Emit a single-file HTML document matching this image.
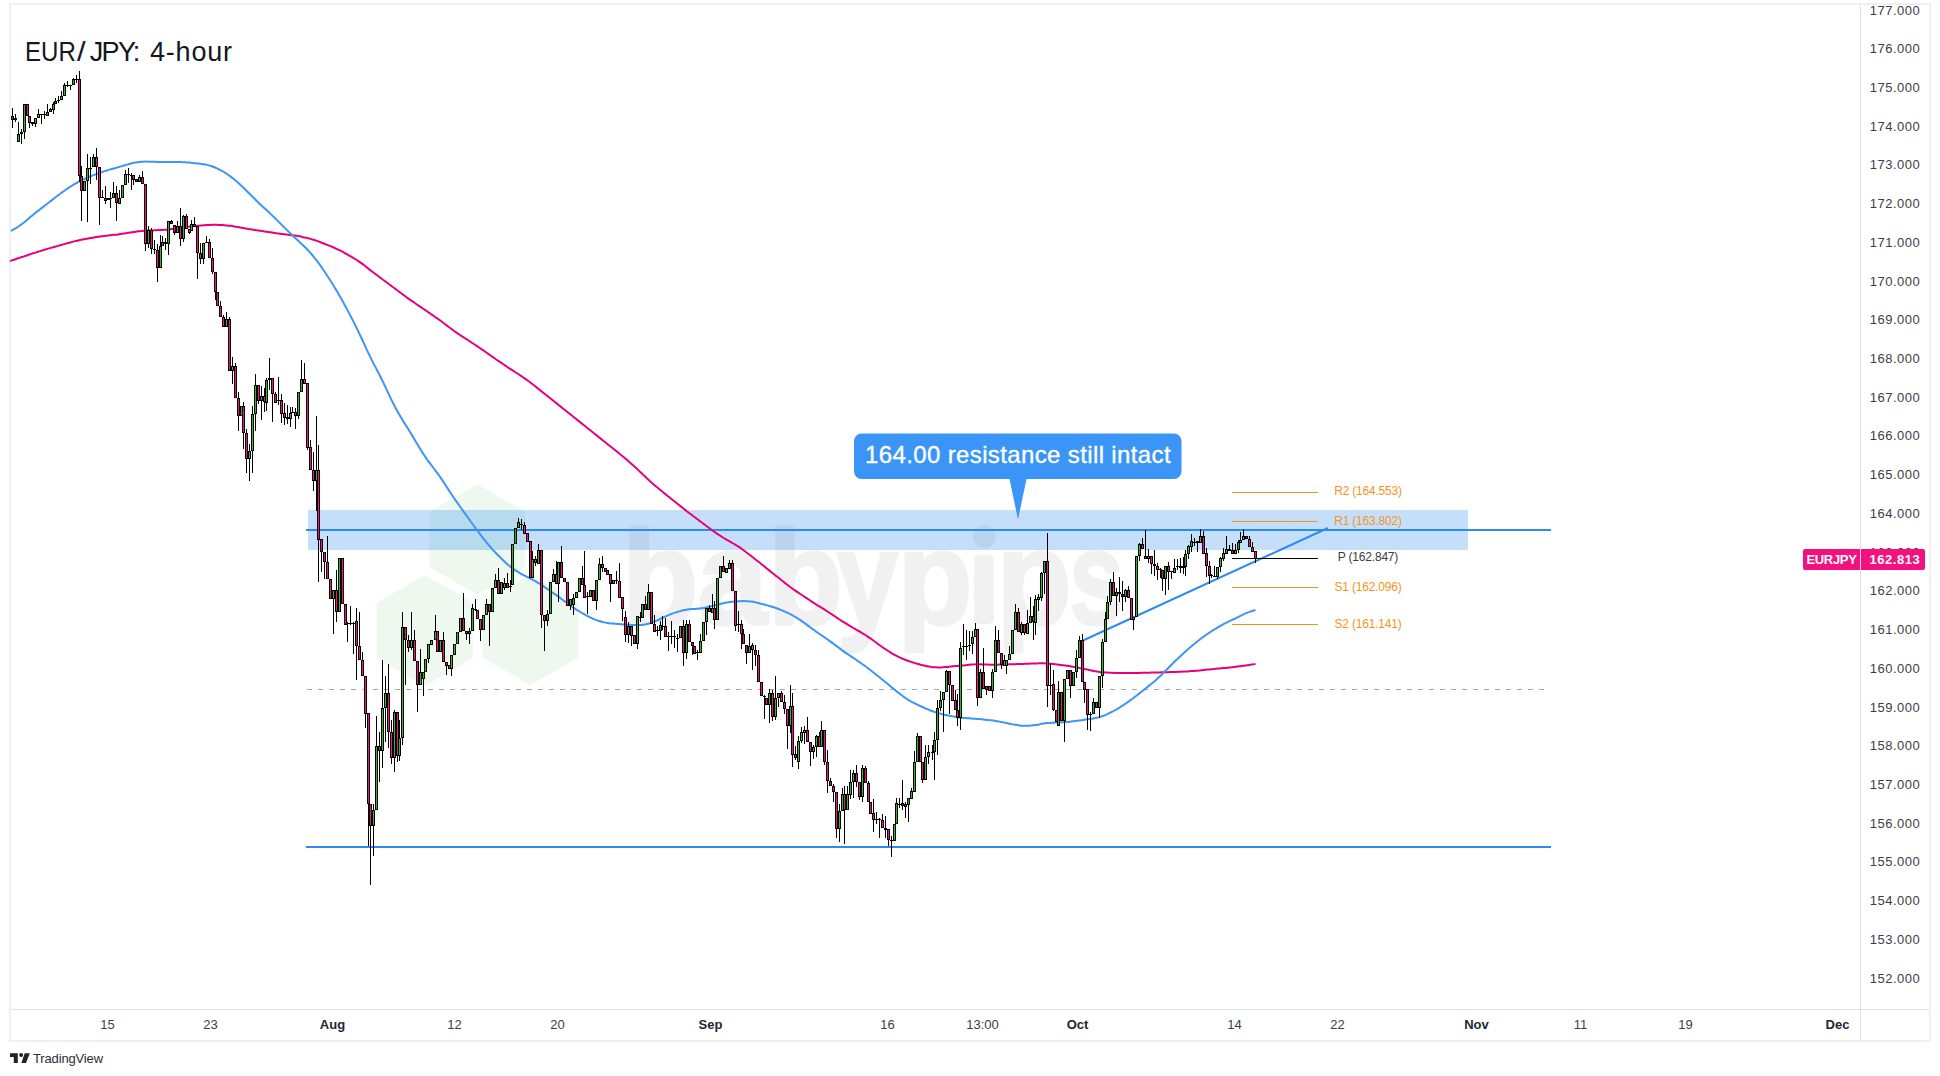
<!DOCTYPE html>
<html><head><meta charset="utf-8"><title>EUR/JPY 4-hour</title>
<style>
html,body{margin:0;padding:0;background:#fff;}
body{width:1940px;height:1076px;position:relative;overflow:hidden;font-family:"Liberation Sans",sans-serif;color:#131722;}
.frame{position:absolute;left:9px;top:3px;width:1918px;height:1035px;border:2px solid #eef0f5;}
.vax{position:absolute;left:1860px;top:5px;width:1px;height:1035px;background:#e0e2e8;}
.hax{position:absolute;left:11px;top:1009px;width:1918px;height:1px;background:#e0e2e8;}
.pl{position:absolute;left:1866px;width:58px;text-align:center;font-size:13px;line-height:16px;color:#3b3e49;letter-spacing:0.5px}
.tl{position:absolute;top:1016.5px;width:60px;text-align:center;font-size:13px;line-height:16px;color:#3b3e49;}
.tl.b{font-weight:bold;color:#23262f}
.pv{position:absolute;left:1334px;width:68px;text-align:center;font-size:12px;line-height:16px;color:#3b3b3b;white-space:nowrap;letter-spacing:-0.2px}
.pv.o{color:#f7931a}
.title{position:absolute;top:34px;font-size:27px;line-height:36px;color:#131722;white-space:nowrap;}
.co{position:absolute;left:854px;top:433px;width:328px;height:45px;line-height:44px;text-align:center;color:#fff;font-size:24px;white-space:nowrap;letter-spacing:0.37px;-webkit-text-stroke:0.35px #fff;}
.tag{position:absolute;top:549px;height:21px;line-height:21px;color:#fff;font-weight:bold;font-size:13px;background:#f5107f;text-align:center}
.tv{position:absolute;left:33px;top:1050px;font-size:13px;line-height:18px;color:#2a2e39;letter-spacing:-0.15px}
</style></head><body>
<div class="frame"></div><div class="vax"></div><div class="hax"></div>
<div class="pl" style="top:2.5px">177.000</div><div class="pl" style="top:41.2px">176.000</div><div class="pl" style="top:79.9px">175.000</div><div class="pl" style="top:118.7px">174.000</div><div class="pl" style="top:157.4px">173.000</div><div class="pl" style="top:196.1px">172.000</div><div class="pl" style="top:234.8px">171.000</div><div class="pl" style="top:273.5px">170.000</div><div class="pl" style="top:312.3px">169.000</div><div class="pl" style="top:351.0px">168.000</div><div class="pl" style="top:389.7px">167.000</div><div class="pl" style="top:428.4px">166.000</div><div class="pl" style="top:467.1px">165.000</div><div class="pl" style="top:505.9px">164.000</div><div class="pl" style="top:583.3px">162.000</div><div class="pl" style="top:622.0px">161.000</div><div class="pl" style="top:660.7px">160.000</div><div class="pl" style="top:699.5px">159.000</div><div class="pl" style="top:738.2px">158.000</div><div class="pl" style="top:776.9px">157.000</div><div class="pl" style="top:815.6px">156.000</div><div class="pl" style="top:854.3px">155.000</div><div class="pl" style="top:893.1px">154.000</div><div class="pl" style="top:931.8px">153.000</div><div class="pl" style="top:970.5px">152.000</div><div class="pl" style="top:544.6px">163.000</div><div class="tl" style="left:77.5px">15</div><div class="tl" style="left:180.5px">23</div><div class="tl b" style="left:302.5px">Aug</div><div class="tl" style="left:424.5px">12</div><div class="tl" style="left:527.5px">20</div><div class="tl b" style="left:680.5px">Sep</div><div class="tl" style="left:857.5px">16</div><div class="tl" style="left:952.5px">13:00</div><div class="tl b" style="left:1047.5px">Oct</div><div class="tl" style="left:1204.5px">14</div><div class="tl" style="left:1307.5px">22</div><div class="tl b" style="left:1446.5px">Nov</div><div class="tl" style="left:1550.5px">11</div><div class="tl" style="left:1655.5px">19</div><div class="tl b" style="left:1807.5px">Dec</div>
<svg width="1940" height="1076" viewBox="0 0 1940 1076" style="position:absolute;left:0;top:0"><path d="M477.3 484.2L525.2 511.9L525.2 567.1L477.3 594.8L429.4 567.1L429.4 511.9z" fill="#5cb85c" fill-opacity="0.10"/><path d="M424.8 575.1L472.7 602.8L472.7 658.0L424.8 685.7L376.9 658.0L376.9 602.8z" fill="#5cb85c" fill-opacity="0.10"/><path d="M530.5 574.5L578.4 602.1L578.4 657.4L530.5 685.1L482.6 657.4L482.6 602.1z" fill="#5cb85c" fill-opacity="0.10"/><rect x="308" y="510" width="1160" height="40" fill="#2a8af0" fill-opacity="0.27"/><g opacity="0.065" font-family="Liberation Sans, sans-serif" font-weight="bold" font-size="133" fill="#40404a" stroke="#40404a" stroke-width="3" stroke-linejoin="round"><text transform="translate(621.9,623.5) scale(0.937,1)">b</text><text transform="translate(697.6,623.5) scale(0.947,1)">a</text><text transform="translate(768.0,623.5) scale(0.921,1)">b</text><text transform="translate(836.4,623.5) scale(0.837,1)">y</text><text transform="translate(897.5,623.5) scale(0.923,1)">p</text><rect x="974" y="554.5" width="20" height="69.5" rx="5" stroke="none"/><circle cx="984.3" cy="536.6" r="11.6" stroke="none"/><text transform="translate(996.5,623.5) scale(0.923,1)">p</text><text transform="translate(1069.2,623.5) scale(0.735,1)">s</text></g><path d="M307 689.5H1545" stroke="#a8a8a8" stroke-width="1" stroke-dasharray="5 6" fill="none" shape-rendering="crispEdges"/><path d="M306 530H1551M306 847H1551" stroke="#2a8cf0" stroke-width="2" fill="none"/><path d="M1082.5 640.75L1328 528" stroke="#2a8cf0" stroke-width="2" fill="none"/><path d="M10.0 261.0C10.7 260.8 12.7 260.1 14.0 259.7C15.3 259.2 16.7 258.8 18.0 258.3C19.3 257.9 20.7 257.4 22.0 257.0C23.3 256.6 24.7 256.1 26.0 255.7C27.3 255.2 28.7 254.8 30.0 254.3C31.3 253.9 32.7 253.4 34.0 253.0C35.3 252.6 36.7 252.1 38.0 251.7C39.3 251.3 40.7 250.9 42.0 250.5C43.3 250.1 44.7 249.7 46.0 249.3C47.3 248.9 48.6 248.5 50.0 248.1C51.4 247.7 52.8 247.4 54.1 247.0C55.5 246.6 56.8 246.3 58.1 245.9C59.4 245.5 60.8 245.1 62.1 244.7C63.4 244.3 64.8 244.0 66.1 243.6C67.4 243.2 68.8 242.9 70.1 242.5C71.4 242.1 72.8 241.7 74.1 241.4C75.4 241.1 76.8 240.8 78.1 240.5C79.4 240.2 80.8 239.9 82.1 239.6C83.4 239.3 84.8 239.1 86.1 238.8C87.4 238.6 88.8 238.3 90.1 238.1C91.4 237.9 92.8 237.6 94.1 237.4C95.4 237.2 96.8 236.9 98.1 236.7C99.4 236.5 100.8 236.4 102.1 236.2C103.4 236.0 104.8 235.8 106.1 235.7C107.4 235.5 108.8 235.5 110.1 235.3C111.4 235.2 112.8 235.0 114.1 234.8C115.4 234.7 116.8 234.6 118.1 234.4C119.4 234.2 120.8 234.0 122.1 233.8C123.4 233.6 124.8 233.4 126.1 233.2C127.4 233.0 128.8 232.7 130.1 232.5C131.4 232.3 132.8 232.1 134.1 231.9C135.4 231.7 136.8 231.5 138.2 231.3C139.5 231.2 140.9 231.1 142.2 231.0C143.5 230.9 144.9 230.8 146.2 230.7C147.5 230.6 148.9 230.6 150.2 230.5C151.5 230.4 152.9 230.4 154.2 230.3C155.5 230.2 156.9 230.2 158.2 230.1C159.5 230.0 160.9 230.0 162.2 229.9C163.5 229.8 164.9 229.8 166.2 229.7C167.5 229.6 168.9 229.5 170.2 229.3C171.5 229.2 172.9 229.0 174.2 228.8C175.5 228.6 176.9 228.5 178.2 228.3C179.5 228.1 180.9 227.9 182.2 227.7C183.5 227.5 184.9 227.3 186.2 227.1C187.5 226.9 188.9 226.8 190.2 226.6C191.5 226.4 192.9 226.2 194.2 226.1C195.5 225.9 196.9 225.8 198.2 225.7C199.5 225.6 200.9 225.5 202.2 225.4C203.5 225.3 204.9 225.2 206.2 225.1C207.5 225.0 208.9 224.9 210.2 224.9C211.5 224.9 212.8 224.8 214.2 224.8C215.5 224.8 217.0 224.9 218.3 224.9C219.7 224.9 221.0 225.0 222.3 225.1C223.6 225.2 225.0 225.3 226.3 225.4C227.6 225.5 229.0 225.6 230.3 225.8C231.6 226.0 233.0 226.2 234.3 226.4C235.6 226.6 237.0 226.9 238.3 227.1C239.6 227.3 241.0 227.6 242.3 227.8C243.6 228.1 245.0 228.3 246.3 228.6C247.6 228.8 249.0 229.1 250.3 229.3C251.6 229.5 253.0 229.7 254.3 229.9C255.6 230.1 257.0 230.3 258.3 230.5C259.6 230.7 261.0 230.9 262.3 231.1C263.6 231.3 265.0 231.5 266.3 231.7C267.6 231.9 269.0 232.1 270.3 232.3C271.6 232.5 273.0 232.7 274.3 232.9C275.6 233.1 277.0 233.2 278.3 233.4C279.6 233.6 281.0 233.7 282.3 233.9C283.6 234.1 285.0 234.2 286.3 234.4C287.6 234.6 289.0 234.7 290.3 234.9C291.6 235.1 293.0 235.2 294.3 235.4C295.6 235.6 297.0 235.8 298.3 236.1C299.6 236.3 301.0 236.6 302.4 236.9C303.8 237.2 305.1 237.5 306.4 237.8C307.7 238.1 309.1 238.5 310.4 238.9C311.7 239.3 313.1 239.6 314.4 240.0C315.7 240.4 317.1 240.9 318.4 241.4C319.7 241.9 321.1 242.5 322.4 243.0C323.7 243.5 325.1 244.1 326.4 244.6C327.7 245.1 329.1 245.6 330.4 246.2C331.7 246.8 333.1 247.3 334.4 247.9C335.7 248.5 337.1 249.1 338.4 249.7C339.7 250.3 341.1 251.0 342.4 251.7C343.7 252.4 345.1 253.2 346.4 253.9C347.7 254.7 349.1 255.4 350.4 256.2C351.7 257.0 353.1 257.8 354.4 258.6C355.7 259.4 357.1 260.2 358.4 261.1C359.7 262.0 361.1 262.9 362.4 263.9C363.7 264.9 365.1 265.9 366.4 267.0C367.7 268.1 369.1 269.1 370.4 270.2C371.7 271.2 373.1 272.3 374.4 273.3C375.7 274.3 377.1 275.3 378.4 276.3C379.7 277.3 381.0 278.3 382.4 279.3C383.8 280.3 385.1 281.3 386.5 282.3C387.9 283.3 389.2 284.3 390.5 285.3C391.8 286.3 393.2 287.3 394.5 288.3C395.8 289.3 397.2 290.3 398.5 291.3C399.8 292.3 401.2 293.3 402.5 294.3C403.8 295.3 405.2 296.2 406.5 297.2C407.8 298.2 409.2 299.2 410.5 300.1C411.8 301.0 413.2 301.9 414.5 302.8C415.8 303.7 417.2 304.7 418.5 305.6C419.8 306.5 421.2 307.4 422.5 308.3C423.8 309.2 425.2 310.1 426.5 311.0C427.8 311.9 429.2 312.8 430.5 313.7C431.8 314.6 433.2 315.6 434.5 316.5C435.8 317.4 437.2 318.4 438.5 319.3C439.8 320.2 441.2 321.2 442.5 322.2C443.8 323.2 445.2 324.3 446.5 325.3C447.8 326.3 449.2 327.3 450.5 328.3C451.8 329.3 453.2 330.2 454.5 331.2C455.8 332.1 457.2 333.1 458.5 334.0C459.8 334.9 461.2 335.7 462.5 336.6C463.8 337.5 465.1 338.3 466.5 339.2C467.9 340.1 469.2 340.9 470.6 341.8C472.0 342.7 473.3 343.6 474.6 344.5C475.9 345.4 477.3 346.3 478.6 347.2C479.9 348.1 481.3 349.0 482.6 349.9C483.9 350.8 485.3 351.8 486.6 352.7C487.9 353.6 489.3 354.6 490.6 355.5C491.9 356.4 493.3 357.4 494.6 358.3C495.9 359.2 497.3 360.2 498.6 361.1C499.9 362.0 501.3 362.9 502.6 363.8C503.9 364.7 505.3 365.6 506.6 366.5C507.9 367.4 509.3 368.2 510.6 369.1C511.9 370.0 513.3 370.8 514.6 371.7C515.9 372.6 517.3 373.4 518.6 374.3C519.9 375.2 521.3 376.1 522.6 377.0C523.9 377.9 525.3 378.9 526.6 379.8C527.9 380.8 529.3 381.7 530.6 382.7C531.9 383.7 533.3 384.8 534.6 385.8C535.9 386.9 537.3 387.9 538.6 389.0C539.9 390.1 541.3 391.1 542.6 392.2C543.9 393.3 545.2 394.3 546.6 395.4C548.0 396.5 549.4 397.5 550.7 398.6C552.1 399.7 553.4 400.7 554.7 401.8C556.0 402.9 557.4 403.9 558.7 405.0C560.0 406.1 561.4 407.1 562.7 408.2C564.0 409.3 565.4 410.3 566.7 411.4C568.0 412.5 569.4 413.5 570.7 414.6C572.0 415.7 573.4 416.7 574.7 417.8C576.0 418.9 577.4 419.9 578.7 421.0C580.0 422.1 581.4 423.1 582.7 424.2C584.0 425.3 585.4 426.3 586.7 427.4C588.0 428.5 589.4 429.5 590.7 430.6C592.0 431.7 593.4 432.7 594.7 433.8C596.0 434.9 597.4 435.9 598.7 437.0C600.0 438.1 601.4 439.1 602.7 440.2C604.0 441.3 605.4 442.3 606.7 443.4C608.0 444.5 609.4 445.5 610.7 446.6C612.0 447.7 613.4 448.7 614.7 449.8C616.0 450.9 617.4 451.9 618.7 453.0C620.0 454.1 621.4 455.2 622.7 456.3C624.0 457.4 625.4 458.5 626.7 459.6C628.0 460.8 629.4 462.0 630.7 463.2C632.1 464.4 633.4 465.6 634.8 466.8C636.1 468.0 637.5 469.3 638.8 470.6C640.1 471.9 641.5 473.1 642.8 474.4C644.1 475.7 645.5 476.9 646.8 478.2C648.1 479.4 649.5 480.7 650.8 481.9C652.1 483.1 653.5 484.3 654.8 485.4C656.1 486.5 657.5 487.6 658.8 488.7C660.1 489.8 661.5 490.9 662.8 492.0C664.1 493.1 665.5 494.1 666.8 495.2C668.1 496.3 669.5 497.3 670.8 498.4C672.1 499.5 673.5 500.5 674.8 501.6C676.1 502.7 677.5 503.7 678.8 504.8C680.1 505.9 681.5 506.9 682.8 508.0C684.1 509.1 685.5 510.1 686.8 511.2C688.1 512.2 689.5 513.3 690.8 514.3C692.1 515.3 693.5 516.3 694.8 517.3C696.1 518.3 697.5 519.2 698.8 520.2C700.1 521.2 701.5 522.2 702.8 523.2C704.1 524.2 705.5 525.2 706.8 526.2C708.1 527.2 709.5 528.3 710.8 529.3C712.1 530.3 713.4 531.3 714.8 532.2C716.1 533.1 717.5 534.0 718.9 534.9C720.2 535.8 721.6 536.7 722.9 537.5C724.2 538.3 725.6 539.0 726.9 539.8C728.2 540.6 729.6 541.3 730.9 542.1C732.2 542.9 733.6 543.6 734.9 544.4C736.2 545.2 737.6 546.0 738.9 546.9C740.2 547.8 741.6 548.7 742.9 549.7C744.2 550.7 745.6 551.7 746.9 552.7C748.2 553.7 749.6 554.8 750.9 555.8C752.2 556.8 753.6 557.8 754.9 558.9C756.2 560.0 757.6 561.0 758.9 562.1C760.2 563.2 761.6 564.2 762.9 565.3C764.2 566.4 765.6 567.4 766.9 568.5C768.2 569.6 769.6 570.6 770.9 571.7C772.2 572.8 773.6 573.8 774.9 574.9C776.2 576.0 777.6 577.0 778.9 578.1C780.2 579.2 781.6 580.2 782.9 581.3C784.2 582.4 785.6 583.5 786.9 584.5C788.2 585.5 789.6 586.5 790.9 587.5C792.2 588.5 793.5 589.5 794.9 590.4C796.2 591.3 797.6 592.2 799.0 593.1C800.4 594.0 801.7 594.9 803.0 595.8C804.3 596.7 805.7 597.5 807.0 598.4C808.3 599.3 809.7 600.2 811.0 601.1C812.3 602.0 813.7 602.9 815.0 603.7C816.3 604.6 817.7 605.4 819.0 606.2C820.3 607.0 821.7 607.8 823.0 608.6C824.3 609.4 825.7 610.3 827.0 611.2C828.3 612.1 829.7 612.9 831.0 613.8C832.3 614.7 833.7 615.6 835.0 616.5C836.3 617.4 837.7 618.3 839.0 619.2C840.3 620.1 841.7 620.9 843.0 621.7C844.3 622.5 845.7 623.4 847.0 624.2C848.3 625.0 849.7 625.8 851.0 626.6C852.3 627.4 853.7 628.1 855.0 628.9C856.3 629.7 857.7 630.4 859.0 631.2C860.3 632.0 861.7 632.8 863.0 633.6C864.3 634.4 865.7 635.2 867.0 636.1C868.3 637.0 869.7 637.8 871.0 638.8C872.3 639.8 873.7 640.8 875.0 641.8C876.3 642.8 877.6 643.8 879.0 644.8C880.4 645.8 881.8 646.7 883.1 647.6C884.5 648.5 885.8 649.4 887.1 650.3C888.4 651.2 889.8 652.1 891.1 652.9C892.4 653.7 893.8 654.5 895.1 655.2C896.4 655.9 897.8 656.6 899.1 657.2C900.4 657.8 901.8 658.5 903.1 659.0C904.4 659.5 905.8 660.0 907.1 660.5C908.4 661.0 909.8 661.5 911.1 661.9C912.4 662.3 913.8 662.7 915.1 663.1C916.4 663.5 917.8 663.9 919.1 664.3C920.4 664.7 921.8 665.0 923.1 665.3C924.4 665.6 925.8 665.9 927.1 666.2C928.4 666.5 929.8 666.7 931.1 666.9C932.4 667.1 933.8 667.2 935.1 667.3C936.4 667.4 937.8 667.4 939.1 667.4C940.4 667.4 941.8 667.3 943.1 667.2C944.4 667.1 945.8 667.0 947.1 666.9C948.4 666.8 949.8 666.6 951.1 666.5C952.4 666.4 953.8 666.2 955.1 666.1C956.4 666.0 957.8 665.8 959.1 665.7C960.4 665.6 961.8 665.5 963.1 665.4C964.5 665.3 965.9 665.0 967.2 664.9C968.6 664.8 969.9 664.7 971.2 664.6C972.5 664.5 973.9 664.3 975.2 664.3C976.5 664.2 977.9 664.3 979.2 664.3C980.5 664.3 981.9 664.3 983.2 664.4C984.5 664.5 985.9 664.5 987.2 664.6C988.5 664.7 989.9 664.7 991.2 664.7C992.5 664.7 993.9 664.7 995.2 664.7C996.5 664.7 997.9 664.6 999.2 664.6C1000.5 664.6 1001.9 664.5 1003.2 664.5C1004.5 664.5 1005.9 664.4 1007.2 664.4C1008.5 664.4 1009.9 664.3 1011.2 664.3C1012.5 664.3 1013.9 664.2 1015.2 664.2C1016.5 664.2 1017.9 664.0 1019.2 664.0C1020.5 664.0 1021.9 663.9 1023.2 663.9C1024.5 663.9 1025.9 663.8 1027.2 663.8C1028.5 663.8 1029.9 663.6 1031.2 663.6C1032.5 663.6 1033.9 663.5 1035.2 663.5C1036.5 663.5 1037.9 663.3 1039.2 663.3C1040.5 663.3 1041.9 663.3 1043.2 663.3C1044.5 663.3 1045.9 663.4 1047.2 663.5C1048.5 663.6 1050.0 663.7 1051.3 663.8C1052.6 663.9 1054.0 664.1 1055.3 664.3C1056.6 664.5 1058.0 664.6 1059.3 664.8C1060.6 665.0 1062.0 665.1 1063.3 665.3C1064.6 665.5 1066.0 665.6 1067.3 665.8C1068.6 666.0 1070.0 666.2 1071.3 666.4C1072.6 666.6 1074.0 666.9 1075.3 667.1C1076.6 667.4 1078.0 667.6 1079.3 667.9C1080.6 668.2 1082.0 668.4 1083.3 668.7C1084.6 669.0 1086.0 669.3 1087.3 669.6C1088.6 669.9 1090.0 670.2 1091.3 670.5C1092.6 670.8 1094.0 671.1 1095.3 671.3C1096.6 671.5 1098.0 671.7 1099.3 671.9C1100.6 672.1 1102.0 672.2 1103.3 672.3C1104.6 672.4 1106.0 672.4 1107.3 672.5C1108.6 672.6 1110.0 672.7 1111.3 672.8C1112.6 672.9 1114.0 672.9 1115.3 672.9C1116.6 672.9 1118.0 673.0 1119.3 673.0C1120.6 673.0 1122.0 673.0 1123.3 673.0C1124.6 673.0 1125.9 673.0 1127.3 673.0C1128.7 673.0 1130.1 673.0 1131.4 673.0C1132.8 673.0 1134.1 672.9 1135.4 672.9C1136.7 672.9 1138.1 672.9 1139.4 672.9C1140.7 672.9 1142.1 672.8 1143.4 672.8C1144.7 672.8 1146.1 672.7 1147.4 672.7C1148.7 672.7 1150.1 672.6 1151.4 672.6C1152.7 672.6 1154.1 672.5 1155.4 672.5C1156.7 672.5 1158.1 672.4 1159.4 672.4C1160.7 672.4 1162.1 672.3 1163.4 672.3C1164.7 672.3 1166.1 672.2 1167.4 672.2C1168.7 672.2 1170.1 672.2 1171.4 672.1C1172.7 672.0 1174.1 672.0 1175.4 671.9C1176.7 671.8 1178.1 671.8 1179.4 671.8C1180.7 671.8 1182.1 671.7 1183.4 671.6C1184.7 671.5 1186.1 671.5 1187.4 671.4C1188.7 671.3 1190.1 671.2 1191.4 671.1C1192.7 671.0 1194.1 670.9 1195.4 670.8C1196.7 670.7 1198.1 670.6 1199.4 670.5C1200.7 670.4 1202.1 670.1 1203.4 670.0C1204.7 669.9 1206.1 669.7 1207.4 669.6C1208.7 669.5 1210.1 669.3 1211.4 669.2C1212.8 669.1 1214.2 668.9 1215.5 668.8C1216.8 668.7 1218.2 668.5 1219.5 668.4C1220.8 668.3 1222.2 668.2 1223.5 668.1C1224.8 668.0 1226.2 667.8 1227.5 667.7C1228.8 667.6 1230.2 667.4 1231.5 667.3C1232.8 667.1 1234.2 667.0 1235.5 666.8C1236.8 666.6 1238.2 666.5 1239.5 666.3C1240.8 666.1 1242.2 666.0 1243.5 665.8C1244.8 665.6 1246.2 665.4 1247.5 665.2C1248.8 665.0 1250.2 664.8 1251.5 664.6C1252.8 664.4 1254.8 664.1 1255.5 664.0" stroke="#e6007e" stroke-width="2" fill="none" stroke-linejoin="round"/><path d="M10.9 231.0C11.6 230.6 13.6 229.5 14.9 228.7C16.2 227.9 17.6 227.1 18.9 226.2C20.2 225.3 21.6 224.3 22.9 223.3C24.2 222.3 25.6 221.1 26.9 220.0C28.2 218.9 29.6 217.7 30.9 216.6C32.2 215.5 33.6 214.4 34.9 213.3C36.2 212.2 37.6 211.2 38.9 210.2C40.2 209.2 41.6 208.1 42.9 207.1C44.2 206.1 45.6 205.0 46.9 204.0C48.2 203.0 49.6 201.9 50.9 200.9C52.2 199.9 53.6 198.8 54.9 197.8C56.2 196.8 57.6 195.8 58.9 194.8C60.2 193.8 61.6 192.8 62.9 191.8C64.2 190.8 65.6 189.9 66.9 189.0C68.2 188.1 69.6 187.2 70.9 186.3C72.2 185.5 73.6 184.7 74.9 183.9C76.2 183.1 77.6 182.4 78.9 181.7C80.2 181.0 81.6 180.3 82.9 179.7C84.2 179.1 85.6 178.5 86.9 177.9C88.2 177.3 89.6 176.8 90.9 176.2C92.2 175.6 93.6 175.1 94.9 174.6C96.2 174.1 97.6 173.6 98.9 173.1C100.2 172.6 101.6 172.1 102.9 171.7C104.2 171.3 105.6 170.9 106.9 170.5C108.2 170.1 109.6 169.7 110.9 169.3C112.2 168.9 113.7 168.6 115.0 168.2C116.3 167.8 117.7 167.4 119.0 167.0C120.3 166.6 121.7 166.2 123.0 165.8C124.3 165.4 125.7 165.0 127.0 164.6C128.3 164.2 129.7 163.8 131.0 163.5C132.3 163.2 133.7 162.8 135.0 162.6C136.3 162.3 137.7 162.2 139.0 162.0C140.3 161.8 141.7 161.8 143.0 161.7C144.3 161.6 145.7 161.6 147.0 161.6C148.3 161.6 149.7 161.7 151.0 161.7C152.3 161.7 153.7 161.8 155.0 161.8C156.3 161.9 157.7 162.0 159.0 162.0C160.3 162.0 161.7 162.0 163.0 162.0C164.3 162.0 165.7 162.0 167.0 162.0C168.3 162.0 169.7 161.9 171.0 161.9C172.3 161.9 173.7 161.9 175.0 161.9C176.3 161.9 177.7 161.9 179.0 162.0C180.3 162.1 181.7 162.1 183.0 162.2C184.3 162.3 185.7 162.3 187.0 162.4C188.3 162.5 189.7 162.6 191.0 162.7C192.3 162.8 193.7 163.0 195.0 163.2C196.3 163.3 197.7 163.4 199.0 163.6C200.3 163.8 201.7 164.0 203.0 164.2C204.3 164.4 205.7 164.6 207.0 164.9C208.3 165.2 209.7 165.6 211.0 166.0C212.3 166.4 213.7 166.9 215.0 167.5C216.3 168.1 217.7 168.6 219.0 169.3C220.3 170.0 221.7 170.7 223.0 171.5C224.3 172.3 225.7 173.1 227.0 174.0C228.3 174.9 229.7 175.9 231.0 176.9C232.3 177.9 233.7 179.0 235.0 180.1C236.3 181.2 237.7 182.4 239.0 183.6C240.3 184.8 241.7 186.0 243.0 187.3C244.3 188.6 245.7 190.0 247.0 191.3C248.3 192.6 249.7 194.0 251.0 195.3C252.3 196.6 253.7 198.0 255.0 199.3C256.3 200.6 257.7 201.9 259.0 203.2C260.3 204.5 261.7 205.7 263.0 206.9C264.3 208.1 265.7 209.3 267.0 210.6C268.3 211.8 269.7 213.1 271.0 214.4C272.3 215.7 273.7 216.9 275.0 218.2C276.3 219.5 277.7 220.8 279.0 222.1C280.3 223.4 281.7 224.8 283.0 226.1C284.3 227.4 285.7 228.8 287.0 230.1C288.3 231.4 289.7 232.7 291.0 234.0C292.3 235.3 293.7 236.6 295.0 237.8C296.3 239.1 297.7 240.3 299.0 241.5C300.3 242.7 301.7 243.9 303.0 245.2C304.3 246.5 305.7 247.8 307.0 249.2C308.3 250.6 309.7 252.0 311.0 253.5C312.3 255.0 313.7 256.7 315.0 258.4C316.3 260.1 317.6 261.8 319.0 263.7C320.4 265.6 321.8 267.5 323.1 269.5C324.5 271.5 325.8 273.5 327.1 275.5C328.4 277.5 329.8 279.6 331.1 281.7C332.4 283.8 333.8 286.1 335.1 288.3C336.4 290.5 337.8 292.7 339.1 295.0C340.4 297.3 341.8 299.7 343.1 302.1C344.4 304.5 345.8 306.9 347.1 309.4C348.4 311.9 349.8 314.4 351.1 317.0C352.4 319.6 353.8 322.2 355.1 324.9C356.4 327.6 357.8 330.3 359.1 333.1C360.4 335.9 361.8 338.8 363.1 341.7C364.4 344.6 365.8 347.5 367.1 350.3C368.4 353.1 369.8 355.9 371.1 358.6C372.4 361.3 373.8 363.8 375.1 366.4C376.4 369.0 377.8 371.5 379.1 374.1C380.4 376.7 381.8 379.4 383.1 382.1C384.4 384.9 385.8 387.8 387.1 390.6C388.4 393.4 389.8 396.4 391.1 399.1C392.4 401.8 393.8 404.5 395.1 407.0C396.4 409.5 397.8 411.9 399.1 414.2C400.4 416.5 401.8 418.7 403.1 420.9C404.4 423.1 405.8 425.1 407.1 427.3C408.4 429.5 409.8 431.6 411.1 433.8C412.4 436.0 413.8 438.2 415.1 440.4C416.4 442.6 417.8 444.9 419.1 447.1C420.4 449.3 421.8 451.4 423.1 453.5C424.4 455.6 425.8 457.6 427.1 459.5C428.4 461.4 429.8 463.1 431.1 464.9C432.4 466.7 433.8 468.3 435.1 470.1C436.4 471.9 437.8 473.6 439.1 475.5C440.4 477.4 441.8 479.4 443.1 481.4C444.4 483.4 445.8 485.6 447.1 487.6C448.4 489.7 449.8 491.7 451.1 493.7C452.4 495.7 453.8 497.7 455.1 499.6C456.4 501.5 457.8 503.4 459.1 505.3C460.4 507.2 461.8 509.0 463.1 510.9C464.4 512.8 465.8 514.6 467.1 516.5C468.4 518.4 469.8 520.2 471.1 522.0C472.4 523.8 473.8 525.7 475.1 527.5C476.4 529.3 477.8 531.1 479.1 532.9C480.4 534.7 481.8 536.4 483.1 538.1C484.4 539.8 485.8 541.5 487.1 543.1C488.4 544.7 489.8 546.3 491.1 547.8C492.4 549.3 493.8 550.8 495.1 552.2C496.4 553.6 497.8 555.0 499.1 556.3C500.4 557.6 501.8 558.9 503.1 560.2C504.4 561.5 505.8 562.7 507.1 563.9C508.4 565.1 509.8 566.2 511.1 567.2C512.4 568.2 513.8 569.2 515.1 570.1C516.4 571.0 517.8 571.8 519.1 572.6C520.4 573.4 521.8 574.2 523.1 574.9C524.4 575.6 525.8 576.2 527.1 576.9C528.5 577.6 529.9 578.3 531.2 579.0C532.6 579.7 533.9 580.4 535.2 581.1C536.5 581.9 537.9 582.7 539.2 583.5C540.5 584.3 541.9 585.2 543.2 586.1C544.5 587.0 545.9 588.0 547.2 588.9C548.5 589.8 549.9 590.8 551.2 591.7C552.5 592.6 553.9 593.5 555.2 594.4C556.5 595.3 557.9 596.3 559.2 597.3C560.5 598.3 561.9 599.3 563.2 600.3C564.5 601.3 565.9 602.3 567.2 603.3C568.5 604.3 569.9 605.3 571.2 606.2C572.5 607.1 573.9 608.0 575.2 608.9C576.5 609.8 577.9 610.5 579.2 611.3C580.5 612.1 581.9 612.9 583.2 613.7C584.5 614.5 585.9 615.2 587.2 615.9C588.5 616.6 589.9 617.3 591.2 617.9C592.5 618.5 593.9 619.1 595.2 619.6C596.5 620.1 597.9 620.6 599.2 621.0C600.5 621.4 601.9 621.8 603.2 622.1C604.5 622.4 605.9 622.7 607.2 622.9C608.5 623.1 609.9 623.2 611.2 623.4C612.5 623.5 613.9 623.7 615.2 623.8C616.5 623.9 617.9 624.0 619.2 624.1C620.5 624.2 621.9 624.3 623.2 624.4C624.5 624.5 625.9 624.6 627.2 624.7C628.5 624.8 629.9 624.9 631.2 625.0C632.5 625.1 633.9 625.1 635.2 625.1C636.5 625.1 637.9 625.2 639.2 625.1C640.5 625.0 641.9 625.0 643.2 624.8C644.5 624.6 645.9 624.3 647.2 624.0C648.5 623.7 649.9 623.3 651.2 622.9C652.5 622.5 653.9 622.0 655.2 621.4C656.5 620.8 657.9 620.1 659.2 619.5C660.5 618.9 661.9 618.1 663.2 617.5C664.5 616.9 665.9 616.2 667.2 615.6C668.5 615.0 669.9 614.5 671.2 614.0C672.5 613.5 673.9 613.0 675.2 612.6C676.5 612.2 677.9 611.8 679.2 611.4C680.5 611.0 681.9 610.6 683.2 610.3C684.5 610.0 685.9 609.8 687.2 609.6C688.5 609.4 689.9 609.2 691.2 609.1C692.5 609.0 693.9 609.0 695.2 608.9C696.5 608.8 697.9 608.8 699.2 608.6C700.5 608.5 701.9 608.2 703.2 608.0C704.5 607.8 705.9 607.5 707.2 607.2C708.5 606.9 709.9 606.5 711.2 606.2C712.5 605.9 713.9 605.5 715.2 605.2C716.5 604.9 717.9 604.5 719.2 604.2C720.5 603.9 721.9 603.5 723.2 603.2C724.5 602.9 725.9 602.6 727.2 602.4C728.5 602.2 729.9 602.0 731.2 601.8C732.5 601.6 733.9 601.5 735.2 601.4C736.6 601.3 737.9 601.2 739.3 601.2C740.6 601.2 742.0 601.1 743.3 601.1C744.6 601.1 746.0 601.1 747.3 601.2C748.6 601.3 750.0 601.4 751.3 601.6C752.6 601.8 754.0 602.1 755.3 602.4C756.6 602.7 758.0 603.0 759.3 603.3C760.6 603.6 762.0 603.9 763.3 604.3C764.6 604.6 766.0 605.0 767.3 605.4C768.6 605.8 770.0 606.1 771.3 606.5C772.6 606.9 774.0 607.3 775.3 607.8C776.6 608.3 778.0 608.8 779.3 609.3C780.6 609.8 782.0 610.3 783.3 610.9C784.6 611.5 786.0 612.1 787.3 612.7C788.6 613.3 790.0 614.0 791.3 614.7C792.6 615.4 794.0 616.2 795.3 617.0C796.6 617.8 798.0 618.5 799.3 619.4C800.6 620.3 802.0 621.2 803.3 622.2C804.6 623.2 806.0 624.1 807.3 625.1C808.6 626.1 810.0 627.1 811.3 628.1C812.6 629.1 814.0 630.0 815.3 631.0C816.6 632.0 818.0 632.9 819.3 633.8C820.6 634.7 822.0 635.6 823.3 636.5C824.6 637.4 826.0 638.4 827.3 639.3C828.6 640.2 830.0 641.1 831.3 642.1C832.6 643.1 834.0 644.1 835.3 645.1C836.6 646.1 838.0 647.1 839.3 648.1C840.6 649.1 842.0 650.1 843.3 651.1C844.6 652.1 846.0 653.0 847.3 653.9C848.6 654.8 850.0 655.7 851.3 656.6C852.6 657.5 854.0 658.4 855.3 659.3C856.6 660.2 858.0 661.1 859.3 662.0C860.6 662.9 862.0 663.8 863.3 664.8C864.6 665.8 866.0 666.8 867.3 667.8C868.6 668.8 870.0 669.8 871.3 670.8C872.6 671.8 874.0 672.8 875.3 673.9C876.6 675.0 878.0 676.0 879.3 677.1C880.6 678.2 882.0 679.2 883.3 680.3C884.6 681.4 886.0 682.5 887.3 683.6C888.6 684.7 890.0 685.8 891.3 686.9C892.6 688.0 894.0 689.1 895.3 690.2C896.6 691.3 898.0 692.4 899.3 693.4C900.6 694.4 902.0 695.5 903.3 696.5C904.6 697.5 906.0 698.4 907.3 699.3C908.6 700.2 910.0 701.0 911.3 701.7C912.6 702.4 914.0 703.1 915.3 703.7C916.6 704.4 918.0 705.0 919.3 705.6C920.6 706.2 922.0 706.8 923.3 707.4C924.6 708.0 926.0 708.6 927.3 709.2C928.6 709.8 930.0 710.3 931.3 710.8C932.6 711.3 934.0 711.8 935.3 712.2C936.6 712.6 938.0 713.0 939.3 713.4C940.6 713.8 941.9 714.1 943.3 714.4C944.6 714.7 946.0 715.0 947.4 715.3C948.8 715.6 950.1 715.9 951.4 716.1C952.7 716.4 954.1 716.6 955.4 716.8C956.7 717.0 958.1 717.2 959.4 717.4C960.7 717.6 962.1 717.8 963.4 717.9C964.7 718.0 966.1 718.1 967.4 718.2C968.7 718.3 970.1 718.4 971.4 718.5C972.7 718.6 974.1 718.7 975.4 718.8C976.7 718.9 978.1 719.0 979.4 719.1C980.7 719.2 982.1 719.3 983.4 719.4C984.7 719.5 986.1 719.8 987.4 719.9C988.7 720.0 990.1 720.1 991.4 720.3C992.7 720.5 994.1 720.7 995.4 720.9C996.7 721.1 998.1 721.4 999.4 721.6C1000.7 721.9 1002.1 722.1 1003.4 722.4C1004.7 722.7 1006.1 723.0 1007.4 723.3C1008.7 723.6 1010.1 723.9 1011.4 724.1C1012.7 724.4 1014.1 724.6 1015.4 724.8C1016.7 725.0 1018.1 725.2 1019.4 725.4C1020.7 725.6 1022.1 725.7 1023.4 725.8C1024.7 725.9 1026.1 725.8 1027.4 725.8C1028.7 725.8 1030.1 725.7 1031.4 725.6C1032.7 725.5 1034.1 725.3 1035.4 725.1C1036.7 724.9 1038.1 724.6 1039.4 724.4C1040.7 724.1 1042.1 723.8 1043.4 723.6C1044.7 723.4 1046.1 723.2 1047.4 723.1C1048.7 723.0 1050.1 722.9 1051.4 722.8C1052.7 722.7 1054.1 722.7 1055.4 722.6C1056.7 722.5 1058.1 722.5 1059.4 722.4C1060.7 722.3 1062.1 722.3 1063.4 722.2C1064.7 722.1 1066.1 722.1 1067.4 722.0C1068.7 721.9 1070.1 721.8 1071.4 721.6C1072.7 721.5 1074.1 721.3 1075.4 721.1C1076.7 720.9 1078.1 720.7 1079.4 720.5C1080.7 720.3 1082.1 720.1 1083.4 719.9C1084.7 719.7 1086.1 719.5 1087.4 719.3C1088.7 719.1 1090.1 719.0 1091.4 718.8C1092.7 718.6 1094.1 718.3 1095.4 718.0C1096.7 717.7 1098.1 717.5 1099.4 717.1C1100.7 716.7 1102.1 716.3 1103.4 715.8C1104.7 715.3 1106.1 714.7 1107.4 714.1C1108.7 713.5 1110.1 712.9 1111.4 712.2C1112.7 711.5 1114.1 710.8 1115.4 710.0C1116.7 709.2 1118.1 708.4 1119.4 707.6C1120.7 706.8 1122.1 706.0 1123.4 705.1C1124.7 704.2 1126.1 703.3 1127.4 702.4C1128.7 701.5 1130.1 700.5 1131.4 699.5C1132.7 698.5 1134.1 697.5 1135.4 696.5C1136.7 695.5 1138.1 694.4 1139.4 693.4C1140.7 692.4 1142.1 691.3 1143.4 690.2C1144.7 689.1 1146.1 688.1 1147.4 687.0C1148.7 685.9 1150.1 684.9 1151.4 683.8C1152.8 682.7 1154.2 681.6 1155.5 680.4C1156.8 679.2 1158.2 678.0 1159.5 676.7C1160.8 675.4 1162.2 674.1 1163.5 672.8C1164.8 671.5 1166.2 670.1 1167.5 668.7C1168.8 667.4 1170.2 666.0 1171.5 664.7C1172.8 663.4 1174.2 662.1 1175.5 660.8C1176.8 659.5 1178.2 658.2 1179.5 657.0C1180.8 655.8 1182.2 654.5 1183.5 653.3C1184.8 652.1 1186.2 650.9 1187.5 649.7C1188.8 648.5 1190.2 647.4 1191.5 646.3C1192.8 645.2 1194.2 644.0 1195.5 642.9C1196.8 641.8 1198.2 640.7 1199.5 639.7C1200.8 638.7 1202.2 637.8 1203.5 636.8C1204.8 635.8 1206.2 634.9 1207.5 634.0C1208.8 633.1 1210.2 632.2 1211.5 631.3C1212.8 630.4 1214.2 629.6 1215.5 628.8C1216.8 628.0 1218.2 627.2 1219.5 626.4C1220.8 625.6 1222.2 624.8 1223.5 624.1C1224.8 623.4 1226.2 622.8 1227.5 622.1C1228.8 621.5 1230.2 620.8 1231.5 620.2C1232.8 619.6 1234.2 618.9 1235.5 618.3C1236.8 617.6 1238.2 617.0 1239.5 616.3C1240.8 615.6 1242.2 614.9 1243.5 614.3C1244.8 613.7 1246.2 613.1 1247.5 612.6C1248.8 612.1 1250.2 611.6 1251.5 611.2C1252.8 610.8 1254.8 610.2 1255.5 610.0" stroke="#3c96f5" stroke-width="2" fill="none" stroke-linejoin="round"/><path d="M1232 492.5H1318" stroke="#f7931a" stroke-width="1" shape-rendering="crispEdges"/><path d="M1232 521.5H1318" stroke="#f7931a" stroke-width="1" shape-rendering="crispEdges"/><path d="M1232 587.5H1318" stroke="#f7931a" stroke-width="1" shape-rendering="crispEdges"/><path d="M1232 624.5H1318" stroke="#f7931a" stroke-width="1" shape-rendering="crispEdges"/><path d="M1232 558.5H1318" stroke="#000" stroke-width="1" shape-rendering="crispEdges"/><clipPath id="cp"><rect x="11" y="5" width="1849" height="1004"/></clipPath><g shape-rendering="crispEdges" clip-path="url(#cp)"><path d="M10.5 115V124M12.5 108V128M15.5 114V122M18.5 122V142M21.5 129V144M24.5 104V139M27.5 104V116M29.5 116V128M32.5 122V126M35.5 118V127M38.5 109V118M41.5 114V124M44.5 111V119M47.5 104V116M50.5 108V112M53.5 102V114M55.5 98V104M58.5 96V103M61.5 91V100M64.5 83V96M67.5 81V87M70.5 85V90M73.5 78V85M76.5 75V83M79.5 71V182M81.5 166V221M84.5 181V191M87.5 154V222M90.5 157V184M93.5 154V167M96.5 148V180M99.5 167V225M102.5 190V198M105.5 186V204M108.5 198V200M110.5 192V208M113.5 182V198M116.5 186V221M119.5 190V204M122.5 185V198M125.5 170V185M128.5 168V183M131.5 173V190M133.5 175V185M136.5 179V182M139.5 175V182M142.5 171V184M145.5 184V251M148.5 226V248M151.5 228V254M154.5 240V254M157.5 244V282M160.5 235V268M162.5 236V246M165.5 238V250M168.5 221V255M171.5 220V224M174.5 225V235M177.5 221V233M180.5 208V246M183.5 215V242M186.5 214V229M189.5 229V234M191.5 220V231M194.5 217V227M197.5 226V279M200.5 243V264M203.5 243V264M206.5 236V243M209.5 239V258M212.5 248V274M215.5 272V300M217.5 292V306M220.5 301V317M223.5 315V327M226.5 312V327M229.5 317V371M232.5 357V384M235.5 363V398M238.5 392V431M241.5 406V416M243.5 402V449M246.5 429V473M249.5 444V481M252.5 406V473M255.5 374V431M258.5 385V404M261.5 386V420M264.5 388V412M266.5 378V411M269.5 358V390M272.5 378V422M275.5 392V403M278.5 377V405M281.5 394V423M284.5 403V425M287.5 405V424M290.5 407V427M292.5 407V413M295.5 408V429M298.5 392V419M301.5 360V392M304.5 363V384M307.5 383V450M310.5 440V470M313.5 452V491M316.5 416V511M318.5 445V582M321.5 539V572M324.5 552V579M327.5 536V579M330.5 579V599M333.5 590V634M336.5 570V622M339.5 558V612M342.5 558V604M345.5 604V625M347.5 622V642M350.5 606V625M353.5 622V654M356.5 608V680M359.5 612V660M362.5 652V676M365.5 676V728M368.5 713V846M370.5 804V885M373.5 804V856M376.5 716V810M379.5 732V782M382.5 660V768M385.5 676V742M388.5 664V748M391.5 720V764M394.5 710V772M397.5 712V762M399.5 720V761M402.5 612V745M405.5 627V685M408.5 635V652M411.5 612V650M414.5 630V661M417.5 661V712M420.5 649V685M423.5 672V696M425.5 659V672M428.5 644V663M431.5 640V645M435.5 615V640M437.5 631V652M440.5 640V652M443.5 632V662M446.5 662V675M449.5 665V669M451.5 655V676M454.5 644V655M457.5 632V644M460.5 618V632M463.5 593V631M466.5 631V640M469.5 628V644M472.5 604V631M475.5 599V611M477.5 610V619M480.5 619V641M483.5 615V630M486.5 599V615M489.5 604V646M492.5 588V612M495.5 574V588M498.5 568V594M501.5 582V594M504.5 578V590M507.5 573V588M510.5 580V592M512.5 544V585M515.5 528V544M518.5 518V528M521.5 519V530M524.5 522V534M527.5 533V542M530.5 541V578M532.5 551V578M535.5 556V566M538.5 544V564M541.5 550V628M544.5 615V651M547.5 610V626M550.5 582V614M553.5 569V582M556.5 561V584M558.5 562V602M561.5 546V578M564.5 578V582M567.5 582V606M570.5 599V610M573.5 594V615M576.5 592V598M579.5 578V592M582.5 566V585M584.5 551V598M587.5 592V614M590.5 590V597M593.5 590V601M596.5 580V610M599.5 558V580M602.5 556V572M605.5 568V572M607.5 570V575M610.5 574V602M613.5 580V584M616.5 571V584M619.5 563V598M622.5 597V621M625.5 611V642M628.5 622V643M631.5 626V646M634.5 635V644M637.5 616V649M640.5 612V622M642.5 604V618M645.5 596V610M648.5 584V610M651.5 592V624M654.5 615V632M657.5 626V636M660.5 621V640M662.5 616V630M665.5 618V637M668.5 632V651M671.5 621V644M674.5 630V648M677.5 634V652M680.5 626V638M683.5 620V666M686.5 620V659M689.5 620V642M692.5 642V655M694.5 646V654M697.5 650V660M700.5 634V653M703.5 622V641M706.5 608V635M709.5 605V612M712.5 594V613M714.5 601V629M717.5 578V620M720.5 566V578M723.5 556V572M726.5 568V573M729.5 560V569M732.5 560V591M735.5 591V631M738.5 611V632M741.5 620V649M743.5 629V644M746.5 645V664M749.5 634V653M752.5 643V670M755.5 645V666M758.5 650V682M761.5 682V696M764.5 695V719M766.5 698V705M769.5 689V723M772.5 690V721M775.5 676V720M778.5 693V707M781.5 691V702M784.5 695V714M787.5 709V749M790.5 685V733M792.5 693V767M795.5 746V760M798.5 736V769M801.5 727V743M804.5 726V744M807.5 717V742M810.5 742V766M813.5 745V759M816.5 735V757M819.5 732V747M821.5 721V747M824.5 730V765M827.5 750V793M830.5 778V786M833.5 784V802M836.5 792V838M839.5 804V842M842.5 788V811M844.5 786V844M847.5 786V810M850.5 770V799M853.5 770V798M856.5 765V787M859.5 782V800M862.5 765V802M865.5 766V783M868.5 781V802M870.5 802V814M873.5 799V832M876.5 812V824M879.5 818V838M882.5 814V828M885.5 816V838M888.5 829V846M891.5 836V857M894.5 824V841M896.5 798V824M899.5 798V808M902.5 780V810M905.5 802V818M908.5 798V822M911.5 788V799M914.5 751V792M917.5 733V762M920.5 736V762M922.5 762V783M925.5 745V780M928.5 745V764M932.5 745V760M934.5 732V780M937.5 700V755M940.5 691V711M943.5 692V732M946.5 670V692M949.5 671V714M952.5 685V701M955.5 690V710M957.5 694V726M960.5 642V730M963.5 624V655M966.5 630V660M969.5 631V651M972.5 631V654M975.5 623V637M977.5 629V706M980.5 669V698M983.5 648V689M986.5 686V695M989.5 686V691M992.5 669V698M995.5 626V672M998.5 630V653M1001.5 653V669M1004.5 655V666M1006.5 660V674M1009.5 646V660M1012.5 630V654M1015.5 604V630M1018.5 608V632M1021.5 622V635M1024.5 624V635M1027.5 610V634M1030.5 597V623M1033.5 606V640M1035.5 595V635M1038.5 594V611M1041.5 572V601M1044.5 561V594M1047.5 533V707M1050.5 664V695M1053.5 670V711M1056.5 710V722M1058.5 681V726M1061.5 692V721M1064.5 679V742M1067.5 670V679M1070.5 670V698M1073.5 672V686M1076.5 650V678M1079.5 636V658M1082.5 634V682M1084.5 682V703M1087.5 689V730M1090.5 712V731M1093.5 698V714M1096.5 702V708M1099.5 676V718M1102.5 639V688M1105.5 612V642M1107.5 596V619M1110.5 579V605M1113.5 572V596M1116.5 588V616M1119.5 577V602M1122.5 581V611M1125.5 589V602M1128.5 586V598M1131.5 598V620M1133.5 617V630M1136.5 556V617M1139.5 543V561M1142.5 538V549M1145.5 530V559M1148.5 549V563M1151.5 556V574M1154.5 550V576M1157.5 563V580M1160.5 568V578M1162.5 570V591M1165.5 566V595M1168.5 562V590M1171.5 571V579M1174.5 559V573M1177.5 559V570M1180.5 558V573M1183.5 557V574M1185.5 550V576M1188.5 545V559M1191.5 534V552M1194.5 538V546M1197.5 541V552M1200.5 529V543M1203.5 531V554M1206.5 548V577M1209.5 561V584M1211.5 574V578M1214.5 566V576M1217.5 567V579M1220.5 557V572M1223.5 548V561M1226.5 536V554M1229.5 545V551M1232.5 543V554M1235.5 544V554M1238.5 540V553M1240.5 532V543M1243.5 529V540M1246.5 536V539M1249.5 536V547M1252.5 542V552M1255.5 551V563" stroke="#000" stroke-width="1" fill="none"/><path d="M9 118h3v1h-3zM11 116h3v4h-3zM14 118h3v2h-3zM17 134h3v8h-3zM20 132h3v2h-3zM23 104h3v28h-3zM26 104h3v12h-3zM28 116h3v7h-3zM31 122h3v2h-3zM34 118h3v6h-3zM37 114h3v4h-3zM40 114h3v1h-3zM43 114h3v1h-3zM46 112h3v4h-3zM49 109h3v3h-3zM52 104h3v6h-3zM54 101h3v3h-3zM57 100h3v1h-3zM60 96h3v4h-3zM63 85h3v11h-3zM66 85h3v1h-3zM69 85h3v1h-3zM72 79h3v6h-3zM75 79h3v1h-3zM78 79h3v97h-3zM80 176h3v15h-3zM83 181h3v10h-3zM86 168h3v13h-3zM89 168h3v1h-3zM92 157h3v10h-3zM95 157h3v10h-3zM98 167h3v31h-3zM101 197h3v1h-3zM104 198h3v3h-3zM107 198h3v2h-3zM109 198h3v1h-3zM112 193h3v5h-3zM115 193h3v10h-3zM118 198h3v6h-3zM121 185h3v13h-3zM124 174h3v11h-3zM127 174h3v1h-3zM130 175h3v1h-3zM132 175h3v5h-3zM135 179h3v3h-3zM138 177h3v5h-3zM141 177h3v7h-3zM144 184h3v60h-3zM147 230h3v14h-3zM150 230h3v19h-3zM153 249h3v1h-3zM156 250h3v18h-3zM159 246h3v22h-3zM161 242h3v4h-3zM164 242h3v2h-3zM167 221h3v23h-3zM170 221h3v3h-3zM173 225h3v8h-3zM176 226h3v7h-3zM179 226h3v13h-3zM182 216h3v23h-3zM185 216h3v13h-3zM188 229h3v4h-3zM190 224h3v7h-3zM193 224h3v3h-3zM196 226h3v27h-3zM199 253h3v6h-3zM202 243h3v16h-3zM205 242h3v1h-3zM208 242h3v16h-3zM211 258h3v14h-3zM214 272h3v20h-3zM216 292h3v14h-3zM219 306h3v11h-3zM222 317h3v10h-3zM225 319h3v8h-3zM228 319h3v52h-3zM231 366h3v5h-3zM234 366h3v32h-3zM237 398h3v18h-3zM240 406h3v10h-3zM242 406h3v27h-3zM245 433h3v26h-3zM248 451h3v8h-3zM251 414h3v37h-3zM254 385h3v29h-3zM257 385h3v16h-3zM260 396h3v5h-3zM263 396h3v6h-3zM265 380h3v23h-3zM268 378h3v2h-3zM271 378h3v16h-3zM274 394h3v9h-3zM277 400h3v1h-3zM280 400h3v14h-3zM283 413h3v5h-3zM286 417h3v2h-3zM289 413h3v6h-3zM291 412h3v1h-3zM294 412h3v4h-3zM297 392h3v24h-3zM300 379h3v13h-3zM303 379h3v5h-3zM306 383h3v65h-3zM309 447h3v23h-3zM312 470h3v11h-3zM315 470h3v11h-3zM317 470h3v70h-3zM320 539h3v13h-3zM323 552h3v10h-3zM326 562h3v17h-3zM329 579h3v20h-3zM332 590h3v9h-3zM335 590h3v22h-3zM338 558h3v54h-3zM341 558h3v46h-3zM344 604h3v21h-3zM346 623h3v1h-3zM349 623h3v1h-3zM352 623h3v1h-3zM355 621h3v25h-3zM358 646h3v14h-3zM361 660h3v16h-3zM364 676h3v38h-3zM367 713h3v91h-3zM369 804h3v22h-3zM372 810h3v16h-3zM375 746h3v64h-3zM378 746h3v5h-3zM381 708h3v43h-3zM384 693h3v15h-3zM387 693h3v39h-3zM390 732h3v26h-3zM393 712h3v46h-3zM396 712h3v44h-3zM398 738h3v18h-3zM401 627h3v111h-3zM404 627h3v13h-3zM407 640h3v8h-3zM410 640h3v8h-3zM413 640h3v21h-3zM416 661h3v24h-3zM419 672h3v13h-3zM422 672h3v7h-3zM424 659h3v13h-3zM427 644h3v15h-3zM430 640h3v5h-3zM434 631h3v9h-3zM436 631h3v21h-3zM439 640h3v12h-3zM442 640h3v22h-3zM445 662h3v4h-3zM448 665h3v4h-3zM450 655h3v14h-3zM453 644h3v11h-3zM456 632h3v12h-3zM459 618h3v14h-3zM462 618h3v13h-3zM465 631h3v3h-3zM468 631h3v3h-3zM471 608h3v23h-3zM474 609h3v1h-3zM476 610h3v9h-3zM479 619h3v11h-3zM482 615h3v15h-3zM485 604h3v11h-3zM488 604h3v8h-3zM491 588h3v24h-3zM494 580h3v8h-3zM497 580h3v14h-3zM500 582h3v12h-3zM503 583h3v5h-3zM506 583h3v5h-3zM509 586h3v1h-3zM511 544h3v41h-3zM514 528h3v16h-3zM517 522h3v6h-3zM520 524h3v1h-3zM523 525h3v9h-3zM526 533h3v9h-3zM529 541h3v37h-3zM531 559h3v19h-3zM534 559h3v4h-3zM537 550h3v14h-3zM540 550h3v65h-3zM543 615h3v6h-3zM546 614h3v7h-3zM549 582h3v32h-3zM552 574h3v8h-3zM555 574h3v10h-3zM557 562h3v22h-3zM560 562h3v16h-3zM563 578h3v4h-3zM566 582h3v24h-3zM569 599h3v7h-3zM572 598h3v7h-3zM575 592h3v6h-3zM578 578h3v14h-3zM581 578h3v7h-3zM583 585h3v13h-3zM586 596h3v1h-3zM589 590h3v7h-3zM592 590h3v11h-3zM595 580h3v21h-3zM598 564h3v16h-3zM601 564h3v4h-3zM604 568h3v4h-3zM606 570h3v5h-3zM609 574h3v10h-3zM612 580h3v4h-3zM615 580h3v1h-3zM618 581h3v17h-3zM621 597h3v12h-3zM624 617h3v18h-3zM627 626h3v9h-3zM630 626h3v10h-3zM633 635h3v9h-3zM636 616h3v28h-3zM639 617h3v1h-3zM641 604h3v14h-3zM644 604h3v6h-3zM647 592h3v18h-3zM650 592h3v32h-3zM653 624h3v8h-3zM656 630h3v1h-3zM659 625h3v6h-3zM661 626h3v1h-3zM664 626h3v11h-3zM667 636h3v1h-3zM670 636h3v1h-3zM673 636h3v1h-3zM676 638h3v1h-3zM679 626h3v12h-3zM682 626h3v27h-3zM685 624h3v29h-3zM688 624h3v18h-3zM691 642h3v4h-3zM693 646h3v8h-3zM696 652h3v1h-3zM699 641h3v12h-3zM702 622h3v19h-3zM705 608h3v14h-3zM708 608h3v4h-3zM711 608h3v5h-3zM713 608h3v12h-3zM716 578h3v42h-3zM719 566h3v12h-3zM722 566h3v6h-3zM725 568h3v5h-3zM728 563h3v6h-3zM731 563h3v28h-3zM734 591h3v35h-3zM737 624h3v1h-3zM740 624h3v10h-3zM742 634h3v10h-3zM745 645h3v8h-3zM748 646h3v7h-3zM751 645h3v5h-3zM754 650h3v5h-3zM757 655h3v27h-3zM760 682h3v14h-3zM763 696h3v1h-3zM765 698h3v7h-3zM768 693h3v12h-3zM771 693h3v24h-3zM774 698h3v19h-3zM777 693h3v5h-3zM780 693h3v9h-3zM783 702h3v7h-3zM786 709h3v17h-3zM789 706h3v20h-3zM791 706h3v49h-3zM794 754h3v4h-3zM797 741h3v21h-3zM800 732h3v9h-3zM803 730h3v3h-3zM806 730h3v12h-3zM809 742h3v10h-3zM812 747h3v5h-3zM815 736h3v11h-3zM818 736h3v11h-3zM820 730h3v17h-3zM823 730h3v32h-3zM826 762h3v19h-3zM829 781h3v5h-3zM832 786h3v6h-3zM835 792h3v37h-3zM838 811h3v18h-3zM841 794h3v17h-3zM843 794h3v16h-3zM846 794h3v16h-3zM849 782h3v13h-3zM852 773h3v9h-3zM855 773h3v9h-3zM858 782h3v15h-3zM861 768h3v29h-3zM864 768h3v15h-3zM867 783h3v19h-3zM869 802h3v12h-3zM872 813h3v7h-3zM875 819h3v1h-3zM878 819h3v1h-3zM881 820h3v8h-3zM884 828h3v2h-3zM887 829h3v11h-3zM890 840h3v1h-3zM893 824h3v17h-3zM895 803h3v21h-3zM898 804h3v1h-3zM901 803h3v3h-3zM904 804h3v3h-3zM907 798h3v7h-3zM910 791h3v8h-3zM913 762h3v30h-3zM916 736h3v26h-3zM919 736h3v26h-3zM921 762h3v18h-3zM924 757h3v23h-3zM927 752h3v5h-3zM931 752h3v1h-3zM933 740h3v12h-3zM936 708h3v32h-3zM939 700h3v8h-3zM942 692h3v8h-3zM945 671h3v21h-3zM948 671h3v14h-3zM951 685h3v16h-3zM954 700h3v10h-3zM956 710h3v8h-3zM959 648h3v70h-3zM962 646h3v1h-3zM965 646h3v1h-3zM968 645h3v1h-3zM971 637h3v7h-3zM974 629h3v8h-3zM976 629h3v69h-3zM979 672h3v26h-3zM982 672h3v17h-3zM985 686h3v4h-3zM988 686h3v5h-3zM991 672h3v19h-3zM994 640h3v32h-3zM997 640h3v13h-3zM1000 653h3v12h-3zM1003 660h3v6h-3zM1005 660h3v6h-3zM1008 654h3v6h-3zM1011 630h3v24h-3zM1014 612h3v18h-3zM1017 612h3v20h-3zM1020 624h3v9h-3zM1023 624h3v9h-3zM1026 623h3v11h-3zM1029 616h3v7h-3zM1032 616h3v6h-3zM1034 599h3v24h-3zM1037 597h3v3h-3zM1040 573h3v25h-3zM1043 561h3v12h-3zM1046 561h3v125h-3zM1049 685h3v1h-3zM1052 684h3v26h-3zM1055 710h3v12h-3zM1057 692h3v34h-3zM1060 692h3v29h-3zM1063 679h3v42h-3zM1066 670h3v9h-3zM1069 670h3v16h-3zM1072 672h3v14h-3zM1075 658h3v14h-3zM1078 640h3v18h-3zM1081 640h3v42h-3zM1083 682h3v8h-3zM1086 689h3v26h-3zM1089 714h3v1h-3zM1092 702h3v12h-3zM1095 702h3v6h-3zM1098 676h3v32h-3zM1101 642h3v34h-3zM1104 619h3v23h-3zM1106 602h3v17h-3zM1109 582h3v20h-3zM1112 582h3v14h-3zM1115 592h3v4h-3zM1118 592h3v2h-3zM1121 594h3v3h-3zM1124 590h3v7h-3zM1127 590h3v8h-3zM1130 598h3v22h-3zM1132 617h3v3h-3zM1135 556h3v61h-3zM1138 544h3v12h-3zM1141 544h3v5h-3zM1144 556h3v3h-3zM1147 556h3v3h-3zM1150 556h3v8h-3zM1153 564h3v2h-3zM1156 566h3v4h-3zM1159 569h3v1h-3zM1161 570h3v9h-3zM1164 566h3v13h-3zM1167 566h3v6h-3zM1170 571h3v1h-3zM1173 568h3v5h-3zM1176 566h3v1h-3zM1179 566h3v2h-3zM1182 566h3v2h-3zM1184 554h3v13h-3zM1187 546h3v8h-3zM1190 541h3v6h-3zM1193 542h3v1h-3zM1196 541h3v2h-3zM1199 536h3v7h-3zM1202 536h3v18h-3zM1205 553h3v13h-3zM1208 566h3v10h-3zM1210 575h3v1h-3zM1213 576h3v1h-3zM1216 567h3v10h-3zM1219 558h3v9h-3zM1222 553h3v6h-3zM1225 549h3v5h-3zM1228 549h3v2h-3zM1231 550h3v4h-3zM1234 550h3v4h-3zM1237 542h3v8h-3zM1239 540h3v3h-3zM1242 536h3v4h-3zM1245 536h3v3h-3zM1248 539h3v8h-3zM1251 547h3v5h-3zM1254 551h3v8h-3z" fill="#000"/><path d="M18 135h1v6h-1zM24 105h1v26h-1zM35 119h1v4h-1zM38 115h1v2h-1zM47 113h1v2h-1zM50 110h1v1h-1zM53 105h1v4h-1zM55 102h1v1h-1zM61 97h1v2h-1zM64 86h1v9h-1zM73 80h1v4h-1zM84 182h1v8h-1zM87 169h1v11h-1zM93 158h1v8h-1zM105 199h1v1h-1zM113 194h1v3h-1zM119 199h1v4h-1zM122 186h1v11h-1zM125 175h1v9h-1zM139 178h1v3h-1zM148 231h1v12h-1zM160 247h1v20h-1zM162 243h1v2h-1zM168 222h1v21h-1zM177 227h1v5h-1zM183 217h1v21h-1zM191 225h1v5h-1zM203 244h1v14h-1zM226 320h1v6h-1zM232 367h1v3h-1zM241 407h1v8h-1zM249 452h1v6h-1zM252 415h1v35h-1zM255 386h1v27h-1zM261 397h1v3h-1zM266 381h1v21h-1zM290 414h1v4h-1zM298 393h1v22h-1zM301 380h1v11h-1zM316 471h1v9h-1zM333 591h1v7h-1zM339 559h1v52h-1zM373 811h1v14h-1zM376 747h1v62h-1zM382 709h1v41h-1zM385 694h1v13h-1zM394 713h1v44h-1zM399 739h1v16h-1zM402 628h1v109h-1zM411 641h1v6h-1zM420 673h1v11h-1zM423 673h1v5h-1zM425 660h1v11h-1zM428 645h1v13h-1zM431 641h1v3h-1zM435 632h1v7h-1zM440 641h1v10h-1zM451 656h1v12h-1zM454 645h1v9h-1zM457 633h1v10h-1zM460 619h1v12h-1zM469 632h1v1h-1zM472 609h1v21h-1zM483 616h1v13h-1zM486 605h1v9h-1zM492 589h1v22h-1zM495 581h1v6h-1zM501 583h1v10h-1zM504 584h1v3h-1zM512 545h1v39h-1zM515 529h1v14h-1zM518 523h1v4h-1zM532 560h1v17h-1zM538 551h1v12h-1zM547 615h1v5h-1zM550 583h1v30h-1zM553 575h1v6h-1zM558 563h1v20h-1zM570 600h1v5h-1zM573 599h1v5h-1zM576 593h1v4h-1zM579 579h1v12h-1zM590 591h1v5h-1zM596 581h1v19h-1zM599 565h1v14h-1zM613 581h1v2h-1zM628 627h1v7h-1zM637 617h1v26h-1zM642 605h1v12h-1zM648 593h1v16h-1zM660 626h1v4h-1zM680 627h1v10h-1zM686 625h1v27h-1zM700 642h1v10h-1zM703 623h1v17h-1zM706 609h1v12h-1zM712 609h1v3h-1zM717 579h1v40h-1zM720 567h1v10h-1zM726 569h1v3h-1zM729 564h1v4h-1zM749 647h1v5h-1zM752 646h1v3h-1zM769 694h1v10h-1zM775 699h1v17h-1zM778 694h1v3h-1zM790 707h1v18h-1zM798 742h1v19h-1zM801 733h1v7h-1zM804 731h1v1h-1zM813 748h1v3h-1zM816 737h1v9h-1zM821 731h1v15h-1zM839 812h1v16h-1zM842 795h1v15h-1zM847 795h1v14h-1zM850 783h1v11h-1zM853 774h1v7h-1zM862 769h1v27h-1zM894 825h1v15h-1zM896 804h1v19h-1zM905 805h1v1h-1zM908 799h1v5h-1zM911 792h1v6h-1zM914 763h1v28h-1zM917 737h1v24h-1zM925 758h1v21h-1zM928 753h1v3h-1zM934 741h1v10h-1zM937 709h1v30h-1zM940 701h1v6h-1zM943 693h1v6h-1zM946 672h1v19h-1zM960 649h1v68h-1zM972 638h1v5h-1zM975 630h1v6h-1zM980 673h1v24h-1zM992 673h1v17h-1zM995 641h1v30h-1zM1004 661h1v4h-1zM1006 661h1v4h-1zM1009 655h1v4h-1zM1012 631h1v22h-1zM1015 613h1v16h-1zM1021 625h1v7h-1zM1027 624h1v9h-1zM1030 617h1v5h-1zM1035 600h1v22h-1zM1038 598h1v1h-1zM1041 574h1v23h-1zM1044 562h1v10h-1zM1058 693h1v32h-1zM1064 680h1v40h-1zM1067 671h1v7h-1zM1073 673h1v12h-1zM1076 659h1v12h-1zM1079 641h1v16h-1zM1093 703h1v10h-1zM1099 677h1v30h-1zM1102 643h1v32h-1zM1105 620h1v21h-1zM1107 603h1v15h-1zM1110 583h1v18h-1zM1116 593h1v2h-1zM1125 591h1v5h-1zM1133 618h1v1h-1zM1136 557h1v59h-1zM1139 545h1v10h-1zM1148 557h1v1h-1zM1165 567h1v11h-1zM1174 569h1v3h-1zM1185 555h1v11h-1zM1188 547h1v6h-1zM1191 542h1v4h-1zM1200 537h1v5h-1zM1217 568h1v8h-1zM1220 559h1v7h-1zM1223 554h1v4h-1zM1226 550h1v3h-1zM1235 551h1v2h-1zM1238 543h1v6h-1zM1240 541h1v1h-1zM1243 537h1v2h-1z" fill="#2dbe1e"/><path d="M12 117h1v2h-1zM27 105h1v10h-1zM29 117h1v5h-1zM79 80h1v95h-1zM81 177h1v13h-1zM96 158h1v8h-1zM99 168h1v29h-1zM116 194h1v8h-1zM133 176h1v3h-1zM136 180h1v1h-1zM142 178h1v5h-1zM145 185h1v58h-1zM151 231h1v17h-1zM157 251h1v16h-1zM171 222h1v1h-1zM174 226h1v6h-1zM180 227h1v11h-1zM186 217h1v11h-1zM189 230h1v2h-1zM194 225h1v1h-1zM197 227h1v25h-1zM200 254h1v4h-1zM209 243h1v14h-1zM212 259h1v12h-1zM215 273h1v18h-1zM217 293h1v12h-1zM220 307h1v9h-1zM223 318h1v8h-1zM229 320h1v50h-1zM235 367h1v30h-1zM238 399h1v16h-1zM243 407h1v25h-1zM246 434h1v24h-1zM258 386h1v14h-1zM264 397h1v4h-1zM272 379h1v14h-1zM275 395h1v7h-1zM281 401h1v12h-1zM284 414h1v3h-1zM295 413h1v2h-1zM304 380h1v3h-1zM307 384h1v63h-1zM310 448h1v21h-1zM313 471h1v9h-1zM318 471h1v68h-1zM321 540h1v11h-1zM324 553h1v8h-1zM327 563h1v15h-1zM330 580h1v18h-1zM336 591h1v20h-1zM342 559h1v44h-1zM345 605h1v19h-1zM356 622h1v23h-1zM359 647h1v12h-1zM362 661h1v14h-1zM365 677h1v36h-1zM368 714h1v89h-1zM370 805h1v20h-1zM379 747h1v3h-1zM388 694h1v37h-1zM391 733h1v24h-1zM397 713h1v42h-1zM405 628h1v11h-1zM408 641h1v6h-1zM414 641h1v19h-1zM417 662h1v22h-1zM437 632h1v19h-1zM443 641h1v20h-1zM446 663h1v2h-1zM449 666h1v2h-1zM463 619h1v11h-1zM466 632h1v1h-1zM477 611h1v7h-1zM480 620h1v9h-1zM489 605h1v6h-1zM498 581h1v12h-1zM507 584h1v3h-1zM524 526h1v7h-1zM527 534h1v7h-1zM530 542h1v35h-1zM535 560h1v2h-1zM541 551h1v63h-1zM544 616h1v4h-1zM556 575h1v8h-1zM561 563h1v14h-1zM564 579h1v2h-1zM567 583h1v22h-1zM582 579h1v5h-1zM584 586h1v11h-1zM593 591h1v9h-1zM602 565h1v2h-1zM605 569h1v2h-1zM607 571h1v3h-1zM610 575h1v8h-1zM619 582h1v15h-1zM622 598h1v10h-1zM625 618h1v16h-1zM631 627h1v8h-1zM634 636h1v7h-1zM645 605h1v4h-1zM651 593h1v30h-1zM654 625h1v6h-1zM665 627h1v9h-1zM683 627h1v25h-1zM689 625h1v16h-1zM692 643h1v2h-1zM694 647h1v6h-1zM709 609h1v2h-1zM714 609h1v10h-1zM723 567h1v4h-1zM732 564h1v26h-1zM735 592h1v33h-1zM741 625h1v8h-1zM743 635h1v8h-1zM746 646h1v6h-1zM755 651h1v3h-1zM758 656h1v25h-1zM761 683h1v12h-1zM766 699h1v5h-1zM772 694h1v22h-1zM781 694h1v7h-1zM784 703h1v5h-1zM787 710h1v15h-1zM792 707h1v47h-1zM795 755h1v2h-1zM807 731h1v10h-1zM810 743h1v8h-1zM819 737h1v9h-1zM824 731h1v30h-1zM827 763h1v17h-1zM830 782h1v3h-1zM833 787h1v4h-1zM836 793h1v35h-1zM844 795h1v14h-1zM856 774h1v7h-1zM859 783h1v13h-1zM865 769h1v13h-1zM868 784h1v17h-1zM870 803h1v10h-1zM873 814h1v5h-1zM882 821h1v6h-1zM888 830h1v9h-1zM902 804h1v1h-1zM920 737h1v24h-1zM922 763h1v16h-1zM949 672h1v12h-1zM952 686h1v14h-1zM955 701h1v8h-1zM957 711h1v6h-1zM977 630h1v67h-1zM983 673h1v15h-1zM986 687h1v2h-1zM989 687h1v3h-1zM998 641h1v11h-1zM1001 654h1v10h-1zM1018 613h1v18h-1zM1024 625h1v7h-1zM1033 617h1v4h-1zM1047 562h1v123h-1zM1053 685h1v24h-1zM1056 711h1v10h-1zM1061 693h1v27h-1zM1070 671h1v14h-1zM1082 641h1v40h-1zM1084 683h1v6h-1zM1087 690h1v24h-1zM1096 703h1v4h-1zM1113 583h1v12h-1zM1122 595h1v1h-1zM1128 591h1v6h-1zM1131 599h1v20h-1zM1142 545h1v3h-1zM1145 557h1v1h-1zM1151 557h1v6h-1zM1157 567h1v2h-1zM1162 571h1v7h-1zM1168 567h1v4h-1zM1203 537h1v16h-1zM1206 554h1v11h-1zM1209 567h1v8h-1zM1232 551h1v2h-1zM1246 537h1v1h-1zM1249 540h1v6h-1zM1252 548h1v3h-1zM1255 552h1v6h-1z" fill="#ff0a8c"/></g><path d="M861.5 433.5H1174a7.5 7.5 0 0 1 7.5 7.5V471.5a7.5 7.5 0 0 1 -7.5 7.5H1026.5L1018 519.5L1009.5 479H861.5a7.5 7.5 0 0 1 -7.5 -7.5V441a7.5 7.5 0 0 1 7.5 -7.5z" fill="#3a95f6"/></svg>
<div class="pv o" style="top:483px">R2 (164.553)</div><div class="pv o" style="top:512.5px">R1 (163.802)</div><div class="pv" style="top:549px">P (162.847)</div><div class="pv o" style="top:579px">S1 (162.096)</div><div class="pv o" style="top:616px">S2 (161.141)</div>
<div class="title" style="left:25px;transform:scaleX(0.89);transform-origin:0 0">EUR</div><div class="title" style="left:77px;transform:scaleX(1.15);transform-origin:0 0">/</div><div class="title" style="left:89.8px;letter-spacing:-1.7px">JPY:</div><div class="title" style="left:150px;letter-spacing:0.8px">4-hour</div>
<div class="co">164.00 resistance still intact</div>
<div class="tag" style="left:1803px;width:57px;border-radius:2px 0 0 2px;letter-spacing:-0.3px">EURJPY</div>
<div class="tag" style="left:1861px;width:55.5px;padding-left:8.5px;text-align:left;border-radius:0 2px 2px 0;letter-spacing:0.55px">162.813</div>
<svg style="position:absolute;left:0;top:1040px" width="40" height="30" viewBox="0 1040 40 30"><path d="M10 1053.2H17.8V1062.9H13.8V1056.9H10z" fill="#1e222d"/><circle cx="21.15" cy="1055.1" r="2" fill="#1e222d"/><path d="M24.7 1053.2H29.8L26 1062.9H21.4z" fill="#1e222d"/></svg>
<div class="tv">TradingView</div>
</body></html>
